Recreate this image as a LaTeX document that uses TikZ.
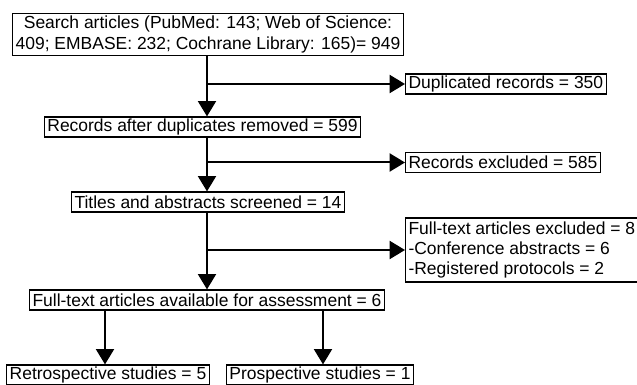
\documentclass[tikz,border=0pt]{standalone}
\usepackage{fontspec}
\setmainfont{Liberation Sans}
\usetikzlibrary{arrows.meta}

\newcommand{\boxfont}{\fontsize{13.1}{15.75}\selectfont}

\tikzset{every picture/.style={line width=0.75pt}}
\tikzset{
  box/.style={draw, line width=0.9pt, inner xsep=2.2pt, inner ysep=0pt, minimum height=15pt, font=\boxfont},
  flow/.style={line width=1.5pt, -{Triangle[length=11.5pt,width=13.5pt]}}
}

\begin{document}
\begin{tikzpicture}[x=0.75pt,y=0.75pt,yscale=-1,xscale=1]
%set diagram left start at 0, and has height of 385
\useasboundingbox (0,0) rectangle (637,385);

%main column
\coordinate (spine) at (207,0);
\coordinate (legL) at (105,0);
\coordinate (legR) at (323,0);

% Text Node
\node [box, align=center, minimum height=32pt] (search) at (208,34.5) {Search articles (PubMed: 143; Web of Science:\\409; EMBASE: 232; Cochrane Library: 165)= 949};
% Text Node
\node [box, anchor=west] (dup) at (405,84) {Duplicated records = 350};
% Text Node
\node [box] (records) at (202.5,127) {Records after duplicates removed = 599};
% Text Node
\node [box, anchor=west] (excl) at (405,162.5) {Records excluded = 585};
% Text Node
\node [box] (titles) at (208,202) {Titles and abstracts screened = 14};
% Text Node
\node [box, anchor=west, align=left, minimum height=48pt, font=\fontsize{13.1}{15}\selectfont] (ftexcl) at (405,250) {Full-text articles excluded = 8\\-Conference abstracts = 6\\-Registered protocols = 2};
% Text Node
\node [box] (fulltext) at (207,300) {Full-text articles available for assessment = 6};
% Text Node
\node [box] (retro) at (108,375) {Retrospective studies = 5};
% Text Node
\node [box] (prosp) at (320,375) {Prospective studies = 1};

%Arrows
\draw [flow] (spine |- search.south) -- (spine |- records.north);
\draw [flow] (spine |- dup.west) -- (dup.west);
\draw [flow] (spine |- records.south) -- (spine |- titles.north);
\draw [flow] (spine |- excl.west) -- (excl.west);
\draw [flow] (spine |- titles.south) -- (spine |- fulltext.north);
\draw [flow] (spine |- ftexcl.west) -- (ftexcl.west);
\draw [flow] (legL |- fulltext.south) -- (legL |- retro.north);
\draw [flow] (legR |- fulltext.south) -- (legR |- prosp.north);

\end{tikzpicture}
\end{document}
